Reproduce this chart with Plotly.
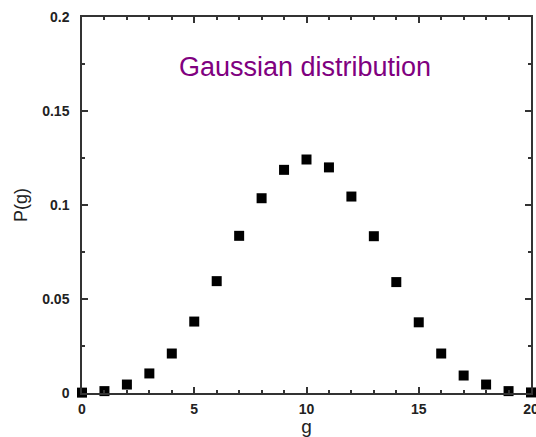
import plotly.graph_objects as go

g_values = list(range(0, 21))
p_values = [0.0002, 0.001, 0.0045, 0.0104, 0.021, 0.038, 0.0595, 0.0836, 0.1036,
            0.1187, 0.1242, 0.1200, 0.1045, 0.0834, 0.0590, 0.0376, 0.0210,
            0.0093, 0.0045, 0.0010, 0.0003]
x_ticks = [0, 5, 10, 15, 20]
y_ticks = [0, 0.05, 0.1, 0.15, 0.2]
y_tick_labels = ["0", "0.05", "0.1", "0.15", "0.2"]
annotation_text = "Gaussian distribution"

FONT = "Liberation Sans, Arial"

fig = go.Figure()
fig.add_trace(go.Scatter(
    x=g_values, y=p_values, mode="markers",
    marker=dict(symbol="square", size=10, color="black"),
    cliponaxis=False, showlegend=False,
))

axis_common = dict(
    showgrid=False, zeroline=False, showline=True, linecolor="#333333", linewidth=1.5,
    mirror="allticks", ticks="inside", ticklen=6, tickwidth=1.5, tickcolor="#333333",
    tickfont=dict(family=FONT, size=14, color="#222222", weight="bold"),
    ticklabeloverflow="allow", automargin=False,
)

fig.update_xaxes(range=[0, 20], tickvals=x_ticks,
                 minor=dict(dtick=1, ticks="inside", ticklen=3, tickwidth=1.5, tickcolor="#333333"),
                 title=dict(text="g", font=dict(family=FONT, size=19, color="#222222"), standoff=2),
                 ticklabelstandoff=2,
                 **axis_common)
fig.update_yaxes(range=[0, 0.2], tickvals=y_ticks, ticktext=y_tick_labels,
                 minor=dict(dtick=0.025, ticks="inside", ticklen=3, tickwidth=1.5, tickcolor="#333333"),
                 title=dict(text="P(g)", font=dict(family=FONT, size=18, color="#222222"), standoff=10),
                 ticklabelstandoff=8,
                 **axis_common)

fig.add_annotation(x=0.497, y=0.868, xref="paper", yref="paper", text=annotation_text,
                   xanchor="center", yanchor="middle",
                   showarrow=False, font=dict(family=FONT, size=27, color="#800080"))

fig.update_layout(width=536, height=437, margin=dict(l=82, r=5, t=17, b=44),
                  plot_bgcolor="white", paper_bgcolor="white")

fig.write_html("out.html")
